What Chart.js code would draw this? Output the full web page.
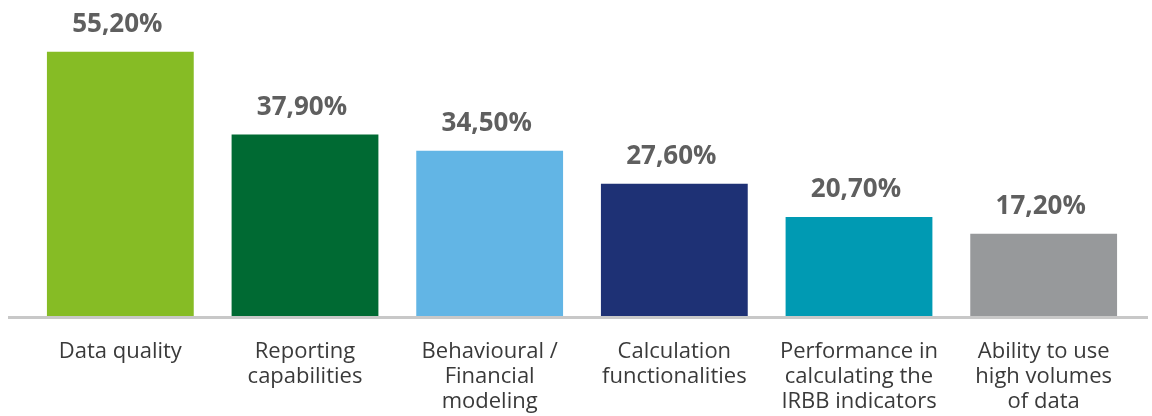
<!DOCTYPE html>
<html>
<head>
<meta charset="utf-8">
<script src="https://cdn.jsdelivr.net/npm/chart.js@4.4.1/dist/chart.umd.min.js"></script>
<style>
  html, body { margin: 0; padding: 0; background: #fff; }
  #wrap { width: 1152px; height: 416px; position: relative; }
</style>
</head>
<body>
<div id="wrap"><canvas id="barChart"></canvas></div>
<script>
// Kategori (label sumbu x, multi-baris)
const categories = [
  ['Data quality'],
  ['Reporting', 'capabilities'],
  ['Behavioural /', 'Financial', 'modeling'],
  ['Calculation', 'functionalities'],
  ['Performance in', 'calculating the', 'IRBB indicators'],
  ['Ability to use', 'high volumes', 'of data']
];

// Persentase per kategori
const values = [55.2, 37.9, 34.5, 27.6, 20.7, 17.2];

const barColors = ['#86bc25', '#006a33', '#62b5e5', '#1e3175', '#009ab3', '#97999b'];

const fontFamily = "'Open Sans', 'Noto Sans', sans-serif";

// Label nilai di atas setiap batang, format koma desimal
const valueLabels = {
  id: 'valueLabels',
  afterDatasetsDraw(chart) {
    const ctx = chart.ctx;
    const meta = chart.getDatasetMeta(0);
    ctx.save();
    ctx.font = 'bold 26px ' + fontFamily;
    ctx.fillStyle = '#5f5f5f';
    ctx.textAlign = 'center';
    ctx.textBaseline = 'alphabetic';
    meta.data.forEach((bar, i) => {
      const text = values[i].toFixed(2).replace('.', ',') + '%';
      ctx.fillText(text, bar.x - 3, bar.y - 20);
    });
    ctx.restore();
  }
};

// Garis dasar abu-abu, sedikit lebih lebar dari area chart
const baseLine = {
  id: 'baseLine',
  beforeDatasetsDraw(chart) {
    const { ctx, chartArea } = chart;
    ctx.save();
    ctx.strokeStyle = '#c8c8c8';
    ctx.lineWidth = 3;
    ctx.beginPath();
    ctx.moveTo(chartArea.left - 20, chartArea.bottom + 1.5);
    ctx.lineTo(chartArea.right + 12, chartArea.bottom + 1.5);
    ctx.stroke();
    ctx.restore();
  }
};

new Chart(document.getElementById('barChart'), {
  type: 'bar',
  data: {
    labels: categories,
    datasets: [{
      data: values,
      backgroundColor: barColors,
      borderWidth: 0,
      barPercentage: 0.795,
      categoryPercentage: 1
    }]
  },
  options: {
    responsive: true,
    maintainAspectRatio: false,
    animation: false,
    layout: { padding: { left: 28, right: 16, top: 0, bottom: 0 } },
    plugins: {
      legend: { display: false },
      tooltip: { enabled: false }
    },
    scales: {
      x: {
        grid: { display: false, drawTicks: false },
        border: { display: false },
        ticks: {
          autoSkip: false,
          maxRotation: 0,
          padding: 23,
          color: '#3a3a3a',
          font: { family: fontFamily, size: 22, lineHeight: 1.14 }
        },
        afterFit(scale) { scale.height = 100; }
      },
      y: {
        display: false,
        min: 0,
        max: 66
      }
    }
  },
  plugins: [baseLine, valueLabels]
});
</script>
</body>
</html>
